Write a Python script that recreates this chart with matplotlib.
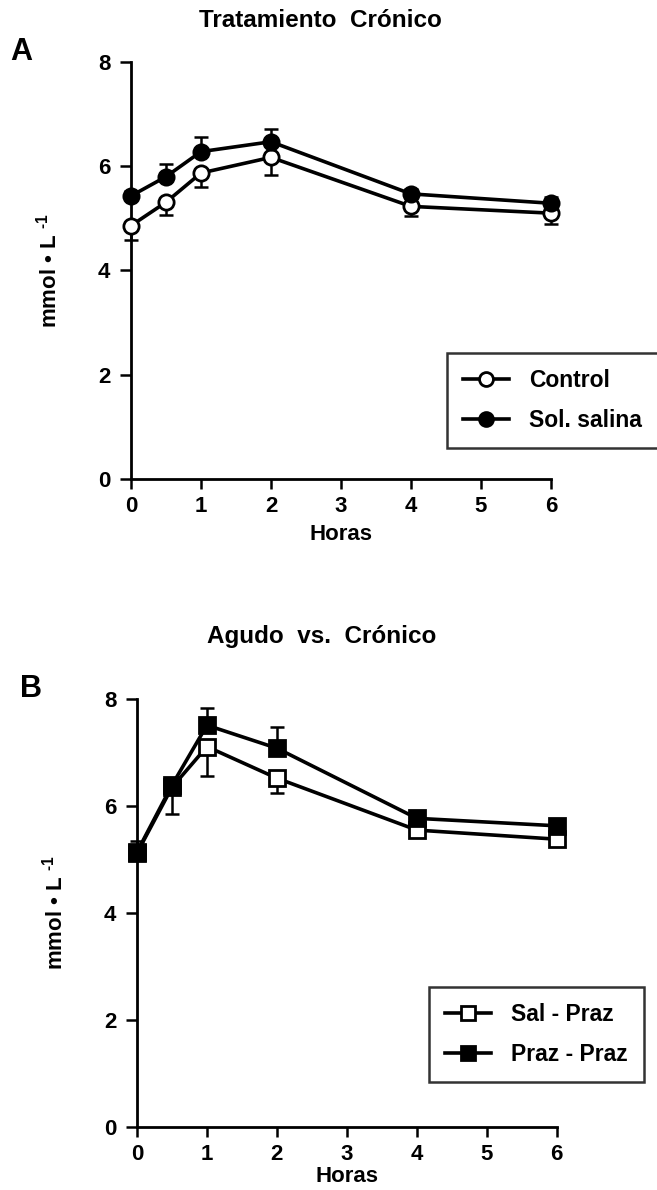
import numpy as np
import matplotlib
matplotlib.use('Agg')
import matplotlib.pyplot as plt

plt.rcParams['font.family'] = ['Liberation Sans', 'DejaVu Sans']
plt.rcParams['font.weight'] = 'bold'
plt.rcParams['mathtext.fontset'] = 'custom'
plt.rcParams['mathtext.bf'] = 'Liberation Sans:bold'
plt.rcParams['mathtext.rm'] = 'Liberation Sans:bold'

# horas
hours = [0, 0.5, 1, 2, 4, 6]

# panel A - tratamiento cronico
control = [4.86, 5.31, 5.87, 6.17, 5.23, 5.10]
control_err = [0.27, 0.24, 0.26, 0.34, 0.18, 0.20]   # hacia abajo
salina = [5.43, 5.80, 6.28, 6.47, 5.47, 5.29]
salina_err = [0.10, 0.24, 0.28, 0.24, 0.10, 0.12]    # hacia arriba

# panel B - agudo vs cronico
sal_praz = [5.12, 6.35, 7.11, 6.52, 5.55, 5.38]
sal_praz_err = [0.10, 0.50, 0.55, 0.27, 0.10, 0.10]  # hacia abajo
praz_praz = [5.14, 6.39, 7.51, 7.08, 5.77, 5.63]
praz_praz_err = [0.20, 0.10, 0.33, 0.39, 0.10, 0.10] # hacia arriba

xticks = [0, 1, 2, 3, 4, 5, 6]
yticks = [0, 2, 4, 6, 8]

fig = plt.figure(figsize=(6.57, 11.9), dpi=100)
axA = fig.add_axes([0.1994, 0.5975, 0.639, 0.3504])
axB = fig.add_axes([0.2085, 0.0529, 0.639, 0.3597])


def series(ax, y, err, up, marker, face, label):
    zeros = np.zeros(len(err))
    yerr = [zeros, err] if up else [err, zeros]
    ax.errorbar(hours, y, yerr=yerr, fmt='none', ecolor='black',
                elinewidth=1.8, capsize=5, capthick=1.8, clip_on=False, zorder=2)
    ax.plot(hours, y, color='black', lw=2.6, marker=marker, ms=11,
            mfc=face, mec='black', mew=2.0, clip_on=False, zorder=3, label=label)


def style(ax, xpad):
    ax.set_xlim(0, 6)
    ax.set_ylim(0, 8)
    ax.set_xticks(xticks)
    ax.set_yticks(yticks)
    for s in ['top', 'right']:
        ax.spines[s].set_visible(False)
    for s in ['left', 'bottom']:
        ax.spines[s].set_linewidth(2.0)
    ax.tick_params(axis='both', direction='out', width=1.8, labelsize=16)
    ax.tick_params(axis='y', length=8, pad=7)
    ax.tick_params(axis='x', length=7, pad=5)
    for t in ax.get_xticklabels() + ax.get_yticklabels():
        t.set_fontweight('bold')
    ax.set_xlabel('Horas', fontsize=16, fontweight='bold', labelpad=xpad)
    ax.set_ylabel(r'mmol • L $^{\text{-1}}$', fontsize=16, fontweight='bold', labelpad=26)


series(axA, control, control_err, False, 'o', 'white', 'Control')
series(axA, salina, salina_err, True, 'o', 'black', 'Sol. salina')
style(axA, 5)

series(axB, sal_praz, sal_praz_err, False, 's', 'white', 'Sal - Praz')
series(axB, praz_praz, praz_praz_err, True, 's', 'black', 'Praz - Praz')
style(axB, 1)

for ax, anchor in [(axA, (0.752, 0.074)), (axB, (0.695, 0.105))]:
    leg = ax.legend(loc='lower left', bbox_to_anchor=anchor, fontsize=16.5,
                    frameon=True, fancybox=False, handlelength=2.0,
                    borderpad=0.7, labelspacing=0.75, handletextpad=0.9,
                    borderaxespad=0)
    leg.get_frame().set_edgecolor('black')
    leg.get_frame().set_linewidth(1.8)
    for t in leg.get_texts():
        t.set_fontweight('bold')
    for h in leg.legend_handles:
        h.set_markersize(10)

fig.text(0.487, 0.9824, 'Tratamiento  Crónico', ha='center', va='center',
         fontsize=17.5, fontweight='bold')
fig.text(0.49, 0.4655, 'Agudo  vs.  Crónico', ha='center', va='center',
         fontsize=17.5, fontweight='bold')
fig.text(0.032, 0.956, 'A', ha='center', va='center', fontsize=22, fontweight='bold')
fig.text(0.047, 0.421, 'B', ha='center', va='center', fontsize=22, fontweight='bold')

fig.savefig('out.png', dpi=100)
